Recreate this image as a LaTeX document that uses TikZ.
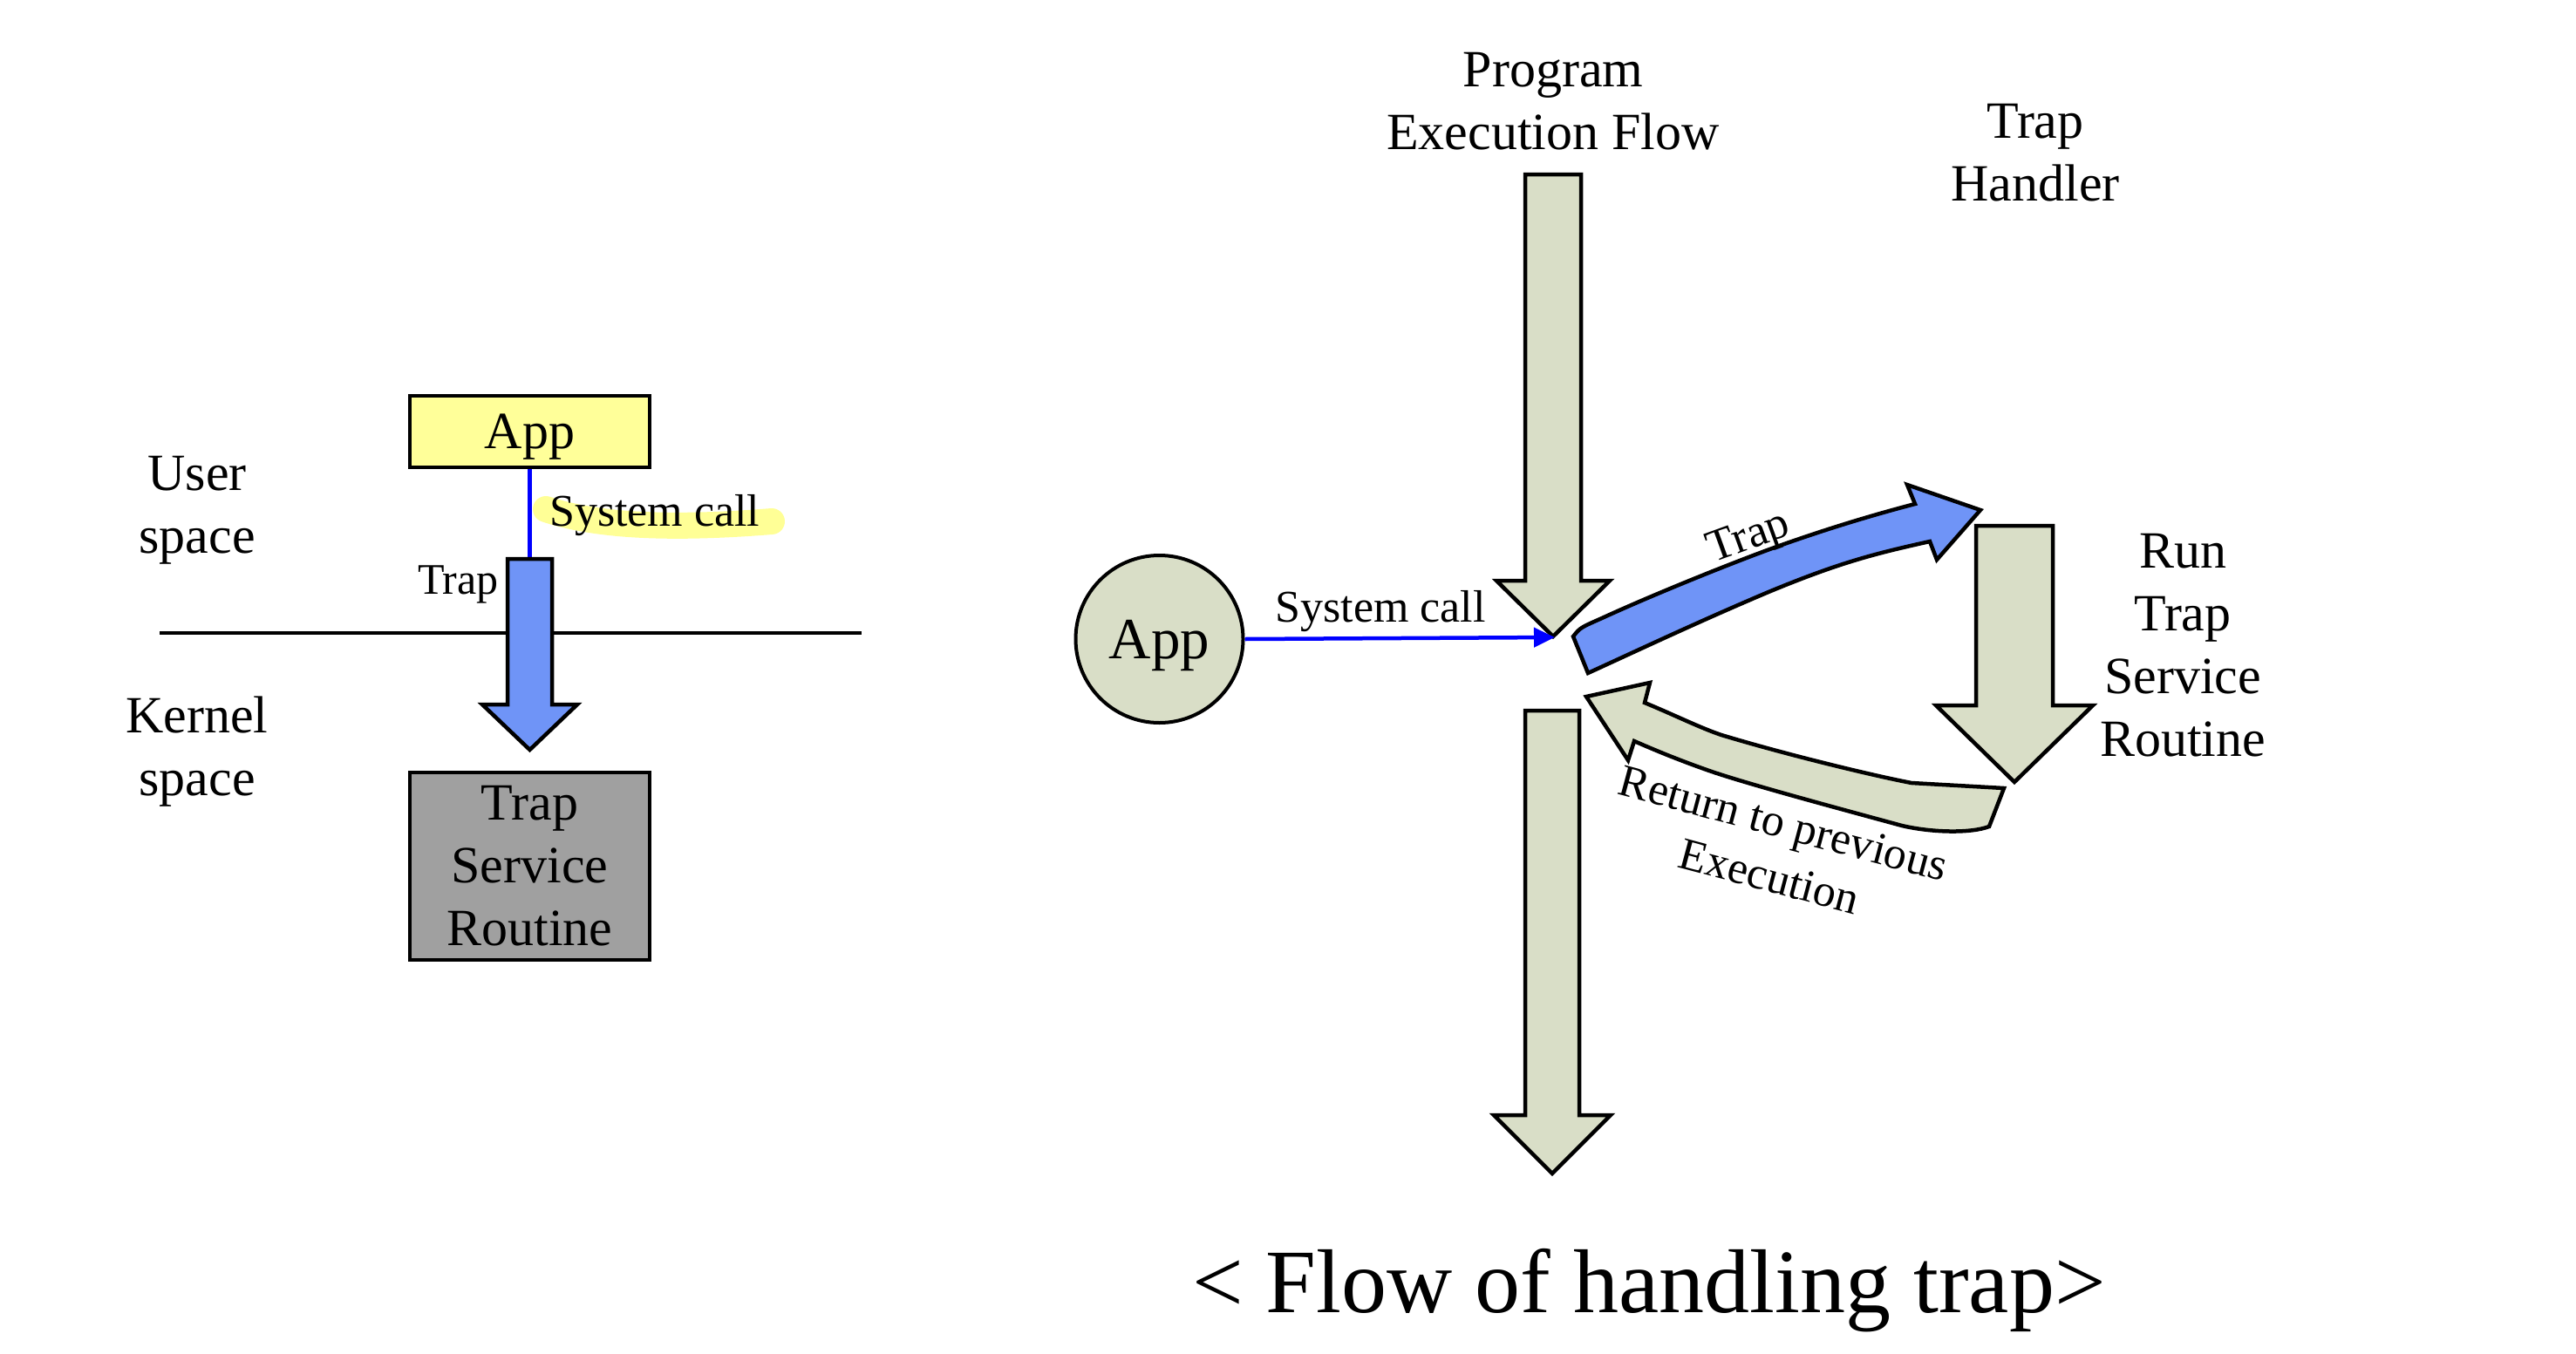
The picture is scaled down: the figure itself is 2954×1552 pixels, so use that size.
\documentclass[tikz,border=0pt]{standalone}
\usepackage{fontspec}
\setmainfont{Liberation Serif}
\usepackage{tikz}
\usetikzlibrary{arrows.meta}
\definecolor{flowgreen}{RGB}{217,222,199}
\definecolor{trapblue}{RGB}{111,148,247}
\definecolor{appyellow}{RGB}{255,255,153}
\definecolor{tsrgray}{RGB}{160,160,160}
\definecolor{marker}{RGB}{255,255,150}
% down arrow: style, centre x, top, head start, tip, shaft half width, head half width
\newcommand{\flowarrow}[7]{\draw[#1] ({#2-#6},#3) -- ({#2+#6},#3) -- ({#2+#6},#4) -- ({#2+#7},#4) -- (#2,#5) -- ({#2-#7},#4) -- ({#2-#6},#4) -- cycle;}
\tikzset{
	lbl/.style={font=\fontsize{60}{72}\selectfont, align=center, inner sep=0pt},
	smalllbl/.style={font=\fontsize{52}{63}\selectfont, align=center, inner sep=0pt},
	outline/.style={draw=black, line width=4.5pt}
}

\begin{document}
\begin{tikzpicture}[x=1pt, y=-1pt]
			%%%%% START %%%%%
			\useasboundingbox (0,0) rectangle (2954,1552);
			
			% left: user / kernel space
			\node[lbl] (user) at (226, 585) {User\\space};
			\node[lbl] (kernel) at (226, 862) {Kernel\\space};
			\draw[line width=3.5pt] (183, 726) -- (988, 726);
			
			\node[lbl, outline, line width=4pt, fill=appyellow, minimum width=275.5, minimum height=82.6, text depth=0pt] (appbox) at (607.5, 495) {App};
			\node[lbl, outline, line width=4pt, fill=tsrgray, minimum width=275.5, minimum height=215] (tsrbox) at (607.5, 993) {Trap\\Service\\Routine};
			
			\coordinate (traptop) at (607.5, 641);
			\draw[line width=4.5pt, color=blue] (appbox.south) -- (traptop);
			\flowarrow{outline, fill=trapblue}{607.5}{641}{808}{860}{25.5}{54.5}
			\node[smalllbl, font=\fontsize{50}{60}\selectfont, anchor=base east] (traplbl) at (572, 681) {Trap};
			
			\draw[line width=30pt, color=marker, line cap=round] (626, 584) .. controls (680, 602) and (760, 608) .. (885, 598);
			\node[smalllbl, anchor=base west] (syscall) at (630, 603) {System call};
			
			% right: flow of handling trap
			\node[lbl] (progflow) at (1781, 116) {Program\\Execution Flow};
			\node[lbl] (handler) at (2334, 175.5) {Trap\\Handler};
			\node[lbl] (runtsr) at (2503, 740.5) {Run\\Trap\\Service\\Routine};
			
			\flowarrow{outline, fill=flowgreen}{1781}{200}{666}{730}{32}{65}
			\flowarrow{outline, fill=flowgreen}{1780}{815}{1279}{1346}{31}{67}
			\flowarrow{outline, fill=flowgreen}{2310}{603}{809}{897}{44}{90}
			
			\node[lbl, outline, line width=4pt, circle, fill=flowgreen, minimum size=192, text depth=0pt, font=\fontsize{67}{80}\selectfont] (appc) at (1329.5, 733) {App};
			\coordinate (flowtip) at (1783, 731);
			\draw[line width=4.5pt, color=blue, -{Triangle[length=24pt, width=22pt]}] (appc.east) -- (flowtip);
			\node[smalllbl, anchor=base] (syscallr) at (1583, 713) {System call};
			
			\draw[outline, fill=trapblue] (1804, 730) .. controls (1812, 720) .. (1837, 709)
				.. controls (1900, 680) and (2000, 640) .. (2046, 624)
				.. controls (2100, 605) and (2150, 590) .. (2196, 578)
				-- (2187, 556) -- (2271, 585) -- (2221, 642) -- (2213, 621)
				.. controls (2150, 635) and (2110, 645) .. (2028, 679)
				.. controls (1950, 712) and (1880, 745) .. (1821, 772) -- cycle;
			\node[smalllbl, rotate=20] (traparc) at (2006, 618) {Trap};
			
			\draw[outline, fill=flowgreen] (2298, 904) -- (2281, 948)
				.. controls (2260, 956) and (2215, 955) .. (2181, 947)
				.. controls (2100, 925) and (2000, 898) .. (1960, 884)
				.. controls (1920, 870) and (1890, 857) .. (1874, 850)
				-- (1867, 872) -- (1819, 799) -- (1892, 783) -- (1886, 806)
				.. controls (1920, 820) and (1950, 835) .. (1974, 843)
				.. controls (2050, 866) and (2150, 890) .. (2192, 898) -- cycle;
			\node[smalllbl, rotate=-15] (retlbl) at (2037, 975) {Return to previous\\Execution};
			
			\node[lbl, font=\fontsize{104}{120}\selectfont, anchor=base] (caption) at (1891, 1505) {< Flow of handling trap>};
			%%%%% END %%%%%
\end{tikzpicture}
\end{document}
